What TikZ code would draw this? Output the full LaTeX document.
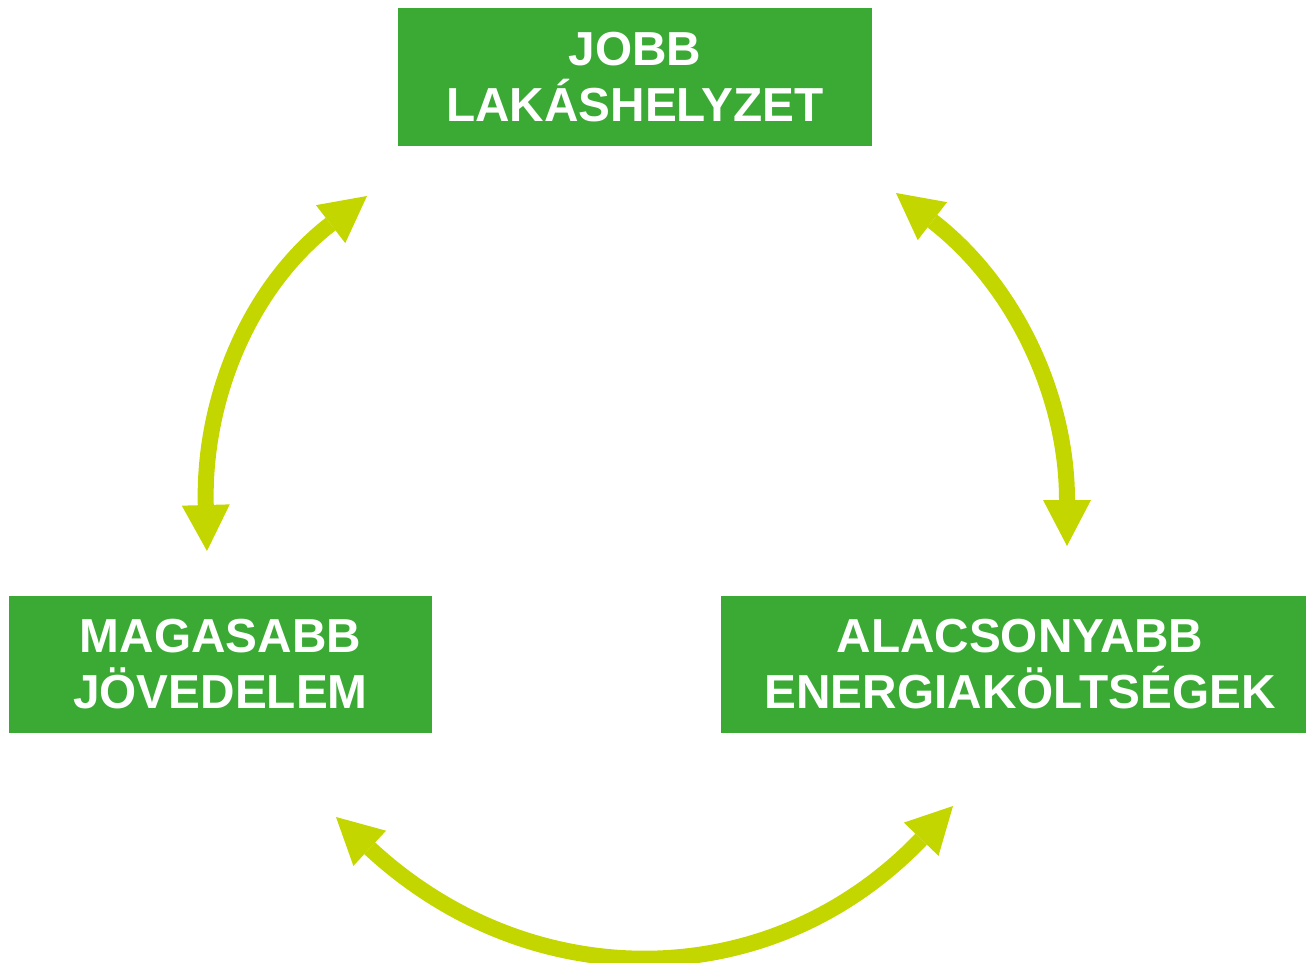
\documentclass[tikz,border=0pt]{standalone}
\usepackage{fontspec}
\setmainfont{Liberation Sans}
\usetikzlibrary{arrows.meta}
\definecolor{boxgreen}{HTML}{3AAA35}
\definecolor{arrowlime}{HTML}{C4D600}
\begin{document}
\begin{tikzpicture}[x=0.75pt,y=-0.75pt,
  box/.style={fill=boxgreen, text=white, font=\bfseries\fontsize{35.8}{42}\selectfont,
    align=center, inner sep=0pt, minimum height=103pt},
  dbl/.style={draw=arrowlime, line width=12pt,
    {Triangle[length=34.5pt,width=36pt,line width=0pt]}-{Triangle[length=34.5pt,width=36pt,line width=0pt]}}]
\clip (0,0) rectangle (1306,963);
\node[box, minimum width=355.5pt] (top) at (635,77) {JOBB\\LAKÁSHELYZET};
\node[box, minimum width=317.25pt] (left) at (220.5,664.5) {MAGASABB\\JÖVEDELEM};
\node[box, minimum width=448.5pt] (right) at (1020,664.5) {ALACSONYABB\\ENERGIAKÖLTSÉGEK};
\coordinate (l1) at (367,196);
\coordinate (l2) at (207,551);
\coordinate (r1) at (896,193);
\coordinate (r2) at (1067,546);
\coordinate (b1) at (336,817);
\coordinate (b2) at (953,806);
\draw[dbl] (l1) .. controls (248,288) and (203,401) .. (l2);
\draw[dbl] (r1) .. controls (1015,285) and (1067,396) .. (r2);
\draw[dbl] (b1) .. controls (530,997) and (770,997) .. (b2);
\end{tikzpicture}
\end{document}
